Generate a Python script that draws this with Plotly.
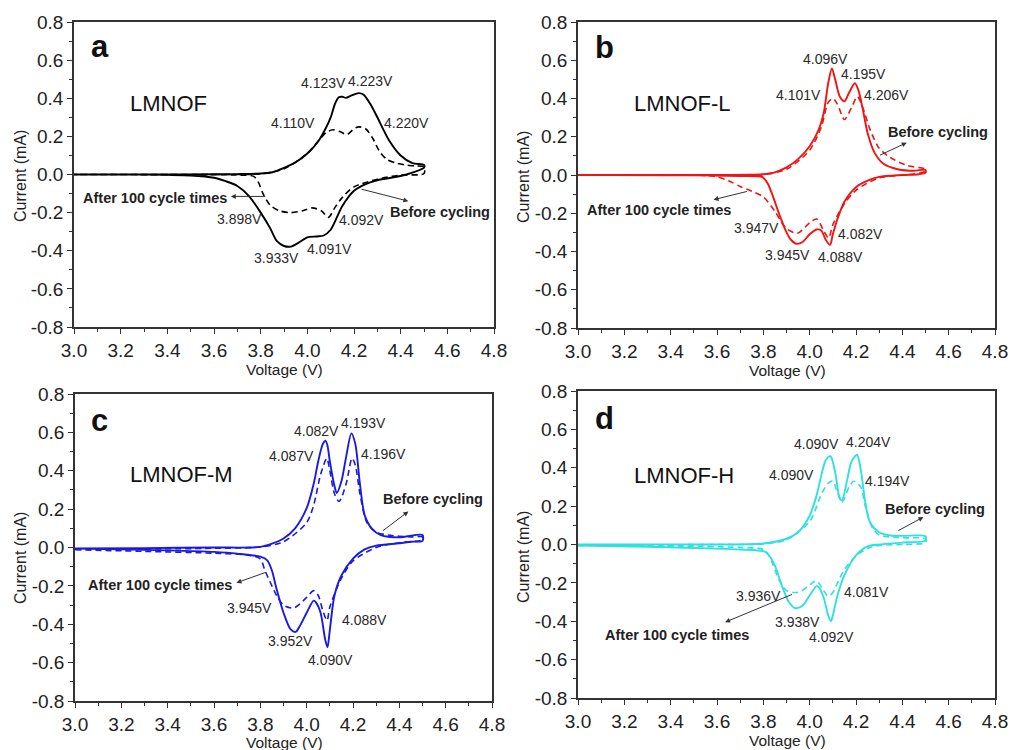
import plotly.graph_objects as go

# ---------------- data ----------------
# Panel a : LMNOF (black)
a_before_up_v = [3.0, 3.4, 3.6, 3.7, 3.8, 3.85, 3.9, 3.95, 4.0, 4.05, 4.08, 4.1, 4.12, 4.135, 4.15, 4.165, 4.19, 4.22, 4.24, 4.27, 4.3, 4.35, 4.4, 4.45, 4.5]
a_before_up_i = [0.0, 0.0, 0.001, 0.002, 0.005, 0.012, 0.035, 0.064, 0.11, 0.18, 0.245, 0.30, 0.375, 0.405, 0.408, 0.402, 0.415, 0.427, 0.42, 0.37, 0.30, 0.18, 0.10, 0.06, 0.05]
a_before_dn_v = [4.5, 4.45, 4.4, 4.3, 4.25, 4.2, 4.15, 4.1, 4.07, 4.04, 4.0, 3.96, 3.93, 3.9, 3.87, 3.84, 3.8, 3.75, 3.7, 3.65, 3.6, 3.5, 3.4, 3.2, 3.0]
a_before_dn_i = [0.035, 0.01, -0.008, -0.03, -0.05, -0.085, -0.165, -0.29, -0.32, -0.325, -0.33, -0.36, -0.378, -0.375, -0.35, -0.28, -0.20, -0.113, -0.06, -0.035, -0.017, -0.005, -0.002, 0.0, 0.0]
a_after_up_v = [3.0, 3.6, 3.8, 3.9, 4.0, 4.05, 4.08, 4.11, 4.14, 4.17, 4.2, 4.22, 4.25, 4.28, 4.31, 4.34, 4.38, 4.42, 4.46, 4.5]
a_after_up_i = [0.0, 0.0, 0.004, 0.03, 0.11, 0.18, 0.22, 0.235, 0.225, 0.21, 0.24, 0.25, 0.24, 0.19, 0.12, 0.08, 0.06, 0.05, 0.045, 0.04]
a_after_dn_v = [4.5, 4.4, 4.3, 4.2, 4.15, 4.12, 4.09, 4.06, 4.02, 3.98, 3.93, 3.88, 3.84, 3.81, 3.79, 3.77, 3.7, 3.5, 3.0]
a_after_dn_i = [0.005, -0.003, -0.025, -0.065, -0.12, -0.17, -0.225, -0.19, -0.175, -0.19, -0.2, -0.19, -0.16, -0.1, -0.04, -0.01, -0.003, -0.001, 0.0]

# Panel b : LMNOF-L (red)
b_before_up_v = [3.0, 3.5, 3.8, 3.85, 3.9, 3.95, 4.0, 4.04, 4.06, 4.08, 4.096, 4.11, 4.13, 4.15, 4.17, 4.195, 4.21, 4.23, 4.25, 4.28, 4.32, 4.38, 4.45, 4.5]
b_before_up_i = [0.0, 0.0, 0.004, 0.014, 0.04, 0.083, 0.15, 0.24, 0.32, 0.48, 0.557, 0.50, 0.41, 0.385, 0.43, 0.48, 0.445, 0.34, 0.22, 0.117, 0.057, 0.03, 0.022, 0.027]
b_before_dn_v = [4.5, 4.47, 4.4, 4.3, 4.25, 4.2, 4.15, 4.12, 4.1, 4.088, 4.07, 4.05, 4.03, 4.0, 3.97, 3.945, 3.92, 3.9, 3.87, 3.84, 3.82, 3.8, 3.79, 3.7, 3.5, 3.0]
b_before_dn_i = [0.012, 0.004, 0.0, -0.01, -0.03, -0.064, -0.14, -0.23, -0.31, -0.365, -0.34, -0.29, -0.285, -0.31, -0.35, -0.36, -0.34, -0.30, -0.21, -0.107, -0.047, -0.014, -0.008, -0.005, -0.002, 0.0]
b_after_up_v = [3.0, 3.6, 3.8, 3.9, 4.0, 4.05, 4.08, 4.101, 4.12, 4.15, 4.18, 4.206, 4.23, 4.26, 4.3, 4.35, 4.42, 4.5]
b_after_up_i = [0.0, 0.0, 0.003, 0.03, 0.13, 0.25, 0.38, 0.40, 0.37, 0.29, 0.35, 0.41, 0.35, 0.24, 0.14, 0.09, 0.05, 0.03]
b_after_dn_v = [4.5, 4.45, 4.3, 4.2, 4.15, 4.1, 4.082, 4.06, 4.03, 4.0, 3.947, 3.9, 3.88, 3.85, 3.8, 3.75, 3.7, 3.65, 3.6, 3.55, 3.0]
b_after_dn_i = [0.02, 0.005, -0.015, -0.08, -0.15, -0.26, -0.33, -0.29, -0.23, -0.25, -0.305, -0.28, -0.25, -0.19, -0.115, -0.085, -0.06, -0.03, -0.01, -0.002, 0.0]

# Panel c : LMNOF-M (blue)
c_before_up_v = [3.0, 3.3, 3.6, 3.8, 3.85, 3.9, 3.95, 4.0, 4.03, 4.05, 4.07, 4.082, 4.09, 4.1, 4.12, 4.13, 4.15, 4.17, 4.193, 4.21, 4.23, 4.25, 4.28, 4.32, 4.4, 4.5]
c_before_up_i = [-0.005, -0.003, 0.0, 0.003, 0.02, 0.047, 0.1, 0.205, 0.33, 0.45, 0.54, 0.556, 0.53, 0.45, 0.32, 0.284, 0.345, 0.47, 0.595, 0.54, 0.33, 0.17, 0.10, 0.065, 0.053, 0.065]
c_before_dn_v = [4.5, 4.45, 4.4, 4.3, 4.25, 4.2, 4.15, 4.12, 4.1, 4.09, 4.08, 4.06, 4.04, 4.03, 4.0, 3.97, 3.952, 3.93, 3.9, 3.87, 3.85, 3.83, 3.8, 3.7, 3.6, 3.4, 3.2, 3.0]
c_before_dn_i = [0.035, 0.03, 0.022, 0.01, -0.01, -0.058, -0.146, -0.25, -0.43, -0.52, -0.48, -0.34, -0.286, -0.277, -0.34, -0.41, -0.44, -0.425, -0.34, -0.216, -0.12, -0.067, -0.048, -0.032, -0.023, -0.015, -0.01, -0.006]
c_after_up_v = [3.0, 3.6, 3.8, 3.9, 4.0, 4.03, 4.06, 4.087, 4.1, 4.12, 4.14, 4.17, 4.196, 4.21, 4.23, 4.26, 4.3, 4.35, 4.45, 4.5]
c_after_up_i = [-0.01, -0.004, 0.003, 0.03, 0.13, 0.22, 0.38, 0.465, 0.40, 0.28, 0.24, 0.33, 0.465, 0.43, 0.28, 0.13, 0.08, 0.065, 0.055, 0.055]
c_after_dn_v = [4.5, 4.4, 4.3, 4.2, 4.15, 4.1, 4.088, 4.07, 4.05, 4.03, 4.0, 3.945, 3.9, 3.87, 3.85, 3.82, 3.8, 3.75, 3.6, 3.3, 3.0]
c_after_dn_i = [0.04, 0.025, 0.0, -0.07, -0.16, -0.31, -0.38, -0.33, -0.25, -0.225, -0.26, -0.315, -0.30, -0.25, -0.20, -0.12, -0.06, -0.04, -0.03, -0.02, -0.012]

# Panel d : LMNOF-H (cyan)
d_before_up_v = [3.0, 3.5, 3.8, 3.9, 3.95, 4.0, 4.03, 4.05, 4.07, 4.09, 4.11, 4.13, 4.14, 4.16, 4.18, 4.204, 4.22, 4.24, 4.26, 4.3, 4.35, 4.4, 4.5]
d_before_up_i = [0.0, 0.0, 0.005, 0.03, 0.064, 0.15, 0.256, 0.36, 0.44, 0.46, 0.377, 0.24, 0.23, 0.325, 0.43, 0.468, 0.395, 0.22, 0.117, 0.064, 0.047, 0.045, 0.043]
d_before_dn_v = [4.5, 4.4, 4.3, 4.25, 4.2, 4.15, 4.12, 4.1, 4.092, 4.08, 4.06, 4.04, 4.03, 4.0, 3.97, 3.938, 3.91, 3.88, 3.85, 3.82, 3.8, 3.7, 3.5, 3.3, 3.0]
d_before_dn_i = [0.02, 0.01, 0.0, -0.01, -0.057, -0.16, -0.266, -0.37, -0.40, -0.37, -0.275, -0.223, -0.217, -0.266, -0.318, -0.332, -0.30, -0.214, -0.11, -0.05, -0.035, -0.026, -0.018, -0.012, -0.005]
d_after_up_v = [3.0, 3.6, 3.8, 3.9, 4.0, 4.05, 4.08, 4.1, 4.12, 4.14, 4.17, 4.19, 4.22, 4.24, 4.27, 4.3, 4.4, 4.5]
d_after_up_i = [-0.003, 0.0, 0.003, 0.025, 0.12, 0.26, 0.32, 0.33, 0.27, 0.22, 0.30, 0.33, 0.30, 0.20, 0.09, 0.05, 0.035, 0.03]
d_after_dn_v = [4.5, 4.4, 4.3, 4.25, 4.2, 4.15, 4.12, 4.1, 4.081, 4.06, 4.03, 4.0, 3.96, 3.936, 3.9, 3.87, 3.84, 3.82, 3.8, 3.7, 3.0]
d_after_dn_i = [0.01, 0.0, -0.005, -0.02, -0.06, -0.13, -0.2, -0.25, -0.27, -0.24, -0.19, -0.21, -0.245, -0.25, -0.24, -0.19, -0.10, -0.05, -0.025, -0.015, -0.005]

# tick labels
x_tickvals = [3.0, 3.2, 3.4, 3.6, 3.8, 4.0, 4.2, 4.4, 4.6, 4.8]
x_ticktext = ["3.0", "3.2", "3.4", "3.6", "3.8", "4.0", "4.2", "4.4", "4.6", "4.8"]
y_tickvals = [-0.8, -0.6, -0.4, -0.2, 0.0, 0.2, 0.4, 0.6, 0.8]
y_ticktext = ["-0.8", "-0.6", "-0.4", "-0.2", "0.0", "0.2", "0.4", "0.6", "0.8"]

# peak labels: (text, V, I)
a_labels = [("4.123V", 4.071, 0.479), ("4.223V", 4.272, 0.488), ("4.110V", 3.94, 0.27), ("4.220V", 4.426, 0.27),
            ("3.898V", 3.711, -0.232), ("4.092V", 4.233, -0.239), ("3.933V", 3.866, -0.436), ("4.091V", 4.097, -0.392)]
b_labels = [("4.096V", 4.067, 0.609), ("4.195V", 4.232, 0.528), ("4.101V", 3.952, 0.416), ("4.206V", 4.333, 0.416),
            ("3.947V", 3.772, -0.279), ("4.082V", 4.218, -0.31), ("3.945V", 3.906, -0.417), ("4.088V", 4.131, -0.431)]
c_labels = [("4.082V", 4.043, 0.609), ("4.193V", 4.244, 0.647), ("4.087V", 3.935, 0.477), ("4.196V", 4.331, 0.486),
            ("3.945V", 3.752, -0.316), ("4.088V", 4.251, -0.377), ("3.952V", 3.930, -0.488), ("4.090V", 4.105, -0.588)]
d_labels = [("4.090V", 4.031, 0.525), ("4.204V", 4.254, 0.534), ("4.090V", 3.92, 0.363), ("4.194V", 4.337, 0.329),
            ("3.936V", 3.779, -0.266), ("4.081V", 4.246, -0.249), ("3.938V", 3.949, -0.402), ("4.092V", 4.093, -0.483)]

# annotation positions: before text, before arrow (tail, head), after text, after arrow (tail, head)
a_notes = dict(before=(4.569, -0.197), before_arrow=((4.226, -0.075), (4.433, -0.14)),
               after=(3.347, -0.122), after_arrow=((3.826, -0.115), (3.672, -0.115)))
b_notes = dict(before=(4.556, 0.224), before_arrow=((4.297, 0.10), (4.419, 0.169)),
               after=(3.348, -0.184), after_arrow=((3.736, -0.084), (3.585, -0.129)))
c_notes = dict(before=(4.544, 0.254), before_arrow=((4.323, 0.082), (4.439, 0.188)),
               after=(3.369, -0.193), after_arrow=((3.827, -0.128), (3.697, -0.184)))
d_notes = dict(before=(4.541, 0.186), before_arrow=((4.376, 0.068), (4.491, 0.143)),
               after=(3.427, -0.471), after_arrow=((3.93, -0.257), (3.635, -0.405)))

panels = [
    dict(letter="a", name="LMNOF", color="#000000",
         before=(a_before_up_v + a_before_dn_v, a_before_up_i + a_before_dn_i),
         after=(a_after_up_v + a_after_dn_v, a_after_up_i + a_after_dn_i),
         labels=a_labels, notes=a_notes, name_pos=(3.404, 0.375), letter_pos=(3.111, 0.67),
         box=(74, 494, 22, 327), ytitle=(20, 176), xtitle=(284, 369)),
    dict(letter="b", name="LMNOF-L", color="#f01414",
         before=(b_before_up_v + b_before_dn_v, b_before_up_i + b_before_dn_i),
         after=(b_after_up_v + b_after_dn_v, b_after_up_i + b_after_dn_i),
         labels=b_labels, notes=b_notes, name_pos=(3.449, 0.376), letter_pos=(3.115, 0.669),
         box=(578, 995, 22, 328), ytitle=(523, 177), xtitle=(787, 370)),
    dict(letter="c", name="LMNOF-M", color="#1a1ae0",
         before=(c_before_up_v + c_before_dn_v, c_before_up_i + c_before_dn_i),
         after=(c_after_up_v + c_after_dn_v, c_after_up_i + c_after_dn_i),
         labels=c_labels, notes=c_notes, name_pos=(3.459, 0.381), letter_pos=(3.107, 0.661),
         box=(75, 492, 394, 701), ytitle=(20, 558), xtitle=(284, 742)),
    dict(letter="d", name="LMNOF-H", color="#30e0e0",
         before=(d_before_up_v + d_before_dn_v, d_before_up_i + d_before_dn_i),
         after=(d_after_up_v + d_after_dn_v, d_after_up_i + d_after_dn_i),
         labels=d_labels, notes=d_notes, name_pos=(3.456, 0.36), letter_pos=(3.115, 0.656),
         box=(578, 995, 391, 698), ytitle=(523, 557), xtitle=(787, 740)),
]

W, H = 1011, 750
FONT = "Arial, Liberation Sans, sans-serif"
TXT = "#2a2a2a"

fig = go.Figure()
annotations = []
layout_axes = {}

for k, p in enumerate(panels):
    n = "" if k == 0 else str(k + 1)
    xref, yref = "x" + n, "y" + n
    x0, x1, y0, y1 = p["box"]
    common = dict(
        ticks="outside", ticklen=5, tickwidth=1.2, tickcolor="#333",
        showline=True, linecolor="#333", linewidth=1.5, mirror=True,
        showgrid=False, zeroline=False, automargin=False,
        tickfont=dict(family=FONT, size=19, color="#222"),
    )
    layout_axes["xaxis" + n] = dict(
        domain=[x0 / W, x1 / W], anchor=yref, range=[3.0, 4.8],
        tickvals=x_tickvals, ticktext=x_ticktext,
        minor=dict(dtick=0.1, tick0=3.0, ticks="outside", ticklen=3, tickwidth=1, tickcolor="#333"),
        **common,
    )
    layout_axes["yaxis" + n] = dict(
        domain=[1 - y1 / H, 1 - y0 / H], anchor=xref, range=[-0.8, 0.8],
        tickvals=y_tickvals, ticktext=y_ticktext,
        minor=dict(dtick=0.1, tick0=0.0, ticks="outside", ticklen=3, tickwidth=1, tickcolor="#333"),
        **common,
    )
    bv, bi = p["before"]
    av, ai = p["after"]
    fig.add_trace(go.Scatter(x=bv, y=bi, mode="lines", xaxis=xref, yaxis=yref,
                             line=dict(color=p["color"], width=1.9, shape="spline", smoothing=0.8),
                             showlegend=False, name=p["name"] + " before cycling"))
    fig.add_trace(go.Scatter(x=av, y=ai, mode="lines", xaxis=xref, yaxis=yref,
                             line=dict(color=p["color"], width=1.6, dash="6px,4px", shape="spline", smoothing=0.8),
                             showlegend=False, name=p["name"] + " after 100 cycles"))
    # peak labels
    for t, vx, vy in p["labels"]:
        annotations.append(dict(x=vx, y=vy, xref=xref, yref=yref, text=t, showarrow=False,
                                xanchor="center", yanchor="middle",
                                font=dict(family=FONT, size=14, color=TXT)))
    # panel letter and sample name
    lx, ly = p["letter_pos"]
    annotations.append(dict(x=lx, y=ly, xref=xref, yref=yref, text="<b>%s</b>" % p["letter"], showarrow=False,
                            xanchor="center", yanchor="middle",
                            font=dict(family=FONT, size=31, color="#111")))
    nx, ny = p["name_pos"]
    annotations.append(dict(x=nx, y=ny, xref=xref, yref=yref, text=p["name"], showarrow=False,
                            xanchor="center", yanchor="middle",
                            font=dict(family=FONT, size=22, color="#111")))
    notes = p["notes"]
    bx, by = notes["before"]
    annotations.append(dict(x=bx, y=by, xref=xref, yref=yref, text="<b>Before cycling</b>", showarrow=False,
                            xanchor="center", yanchor="middle",
                            font=dict(family=FONT, size=14.5, color="#222")))
    ax_, hd = notes["before_arrow"]
    annotations.append(dict(x=hd[0], y=hd[1], ax=ax_[0], ay=ax_[1], xref=xref, yref=yref, axref=xref, ayref=yref,
                            text="", showarrow=True, arrowhead=2, arrowsize=1, arrowwidth=1, arrowcolor="#333"))
    tx, ty = notes["after"]
    annotations.append(dict(x=tx, y=ty, xref=xref, yref=yref, text="<b>After 100 cycle times</b>", showarrow=False,
                            xanchor="center", yanchor="middle",
                            font=dict(family=FONT, size=14.5, color="#222")))
    ax_, hd = notes["after_arrow"]
    annotations.append(dict(x=hd[0], y=hd[1], ax=ax_[0], ay=ax_[1], xref=xref, yref=yref, axref=xref, ayref=yref,
                            text="", showarrow=True, arrowhead=2, arrowsize=1, arrowwidth=1, arrowcolor="#333"))
    # axis titles
    yx, yy = p["ytitle"]
    annotations.append(dict(x=yx / W, y=1 - yy / H, xref="paper", yref="paper", text="Current (mA)",
                            xanchor="center", yanchor="middle",
                            textangle=-90, showarrow=False, font=dict(family=FONT, size=16, color="#222")))
    xx, xy = p["xtitle"]
    annotations.append(dict(x=xx / W, y=1 - xy / H, xref="paper", yref="paper", text="Voltage (V)",
                            xanchor="center", yanchor="middle",
                            showarrow=False, font=dict(family=FONT, size=15.5, color="#222")))

fig.update_layout(
    width=W, height=H, margin=dict(l=0, r=0, t=0, b=0, autoexpand=False),
    paper_bgcolor="white", plot_bgcolor="white",
    showlegend=False, annotations=annotations, **layout_axes,
)

fig.write_html("out.html")
